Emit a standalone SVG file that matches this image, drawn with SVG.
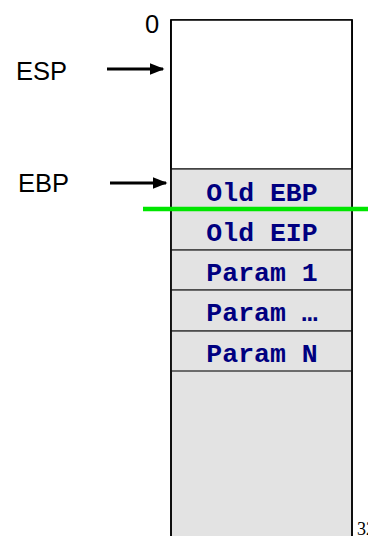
<svg xmlns="http://www.w3.org/2000/svg" width="368" height="536" viewBox="0 0 368 536">
<defs>
<style>
.lbl{font-family:"Liberation Sans",Arial,sans-serif;font-size:25.5px;fill:#000}
.cell{fill:#e3e3e3;stroke:#444;stroke-width:1.5}
.ct{font-family:"Liberation Mono","Courier New",monospace;font-weight:bold;font-size:26.5px;fill:#000080;text-anchor:middle}
.arr{stroke:#000;stroke-width:3;fill:none}
</style>
<marker id="ah" markerWidth="5" markerHeight="4" refX="4.5" refY="2" orient="auto" markerUnits="strokeWidth">
<path d="M0,0 L5,2 L0,4 Z" fill="#000"/>
</marker>
</defs>
<g id="stack">
<rect x="171" y="20" width="181" height="530" fill="#e3e3e3" stroke="#000" stroke-width="1.5"/>
<rect x="171" y="20" width="181" height="149" fill="#fff" stroke="#000" stroke-width="1.5"/>
</g>
<g id="old-ebp"><rect class="cell" x="171" y="169" width="181" height="41"/><text class="ct" x="262" y="201">Old EBP</text></g>
<g id="old-eip"><rect class="cell" x="171" y="210" width="181" height="40"/><text class="ct" x="262" y="241">Old EIP</text></g>
<g id="param1"><rect class="cell" x="171" y="250" width="181" height="40"/><text class="ct" x="262" y="281">Param 1</text></g>
<g id="param-dots"><rect class="cell" x="171" y="290" width="181" height="41"/><text class="ct" x="262" y="321">Param …</text></g>
<g id="paramN"><rect class="cell" x="171" y="331" width="181" height="40"/><text class="ct" x="262" y="362">Param N</text></g>
<line x1="171" y1="20" x2="171" y2="540" stroke="#000" stroke-width="1.5"/>
<line x1="352" y1="20" x2="352" y2="540" stroke="#000" stroke-width="1.5"/>
<g id="zero"><text class="lbl" x="145" y="33">0</text></g>
<g id="esp"><text class="lbl" x="16" y="80">ESP</text></g>
<g id="ebp"><text class="lbl" x="18" y="192">EBP</text></g>
<g id="connectors">
<line class="arr" x1="107" y1="69" x2="163" y2="69" marker-end="url(#ah)"/>
<line class="arr" x1="110" y1="183" x2="166" y2="183" marker-end="url(#ah)"/>
</g>
<line id="green" x1="143" y1="209" x2="368" y2="209" stroke="#00e600" stroke-width="4.5"/>
<text x="357" y="535" font-family="'Liberation Serif','Times New Roman',serif" font-size="18" fill="#000">32</text>
</svg>
